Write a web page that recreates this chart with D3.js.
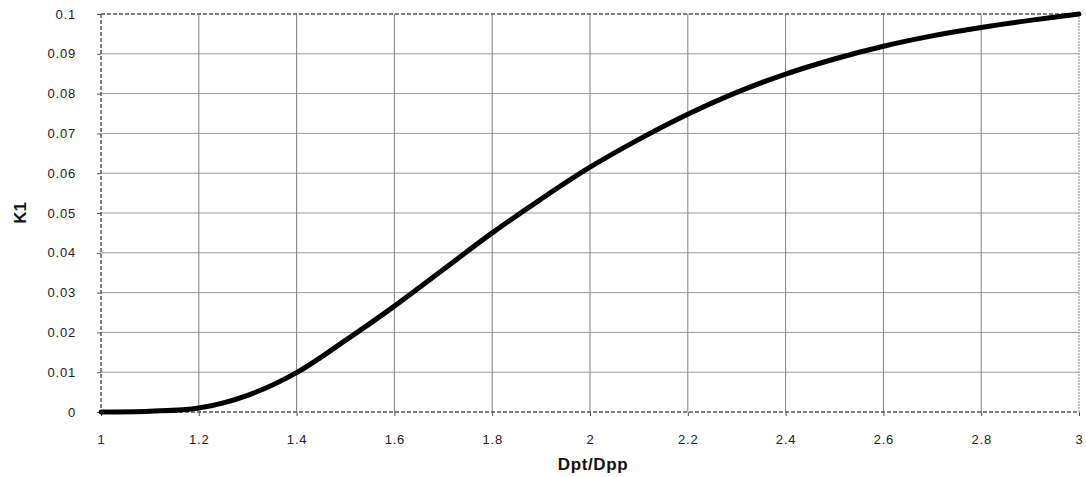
<!DOCTYPE html>
<html><head><meta charset="utf-8">
<script src="https://cdn.jsdelivr.net/npm/d3@7"></script>
<style>body{margin:0;background:#fff}svg{display:block}text{font-family:"Liberation Sans",Arial,sans-serif}</style>
</head><body><svg id="c" width="1086" height="477"></svg>
<script>
const xs = [1, 1.1, 1.2, 1.3, 1.4, 1.5, 1.6, 1.7, 1.8, 1.9, 2.0, 2.1, 2.2, 2.3, 2.4, 2.5, 2.6, 2.7, 2.8, 2.9, 3.0];
const k1 = [0, 0.0002, 0.001, 0.0042, 0.0099, 0.018, 0.0266, 0.0358, 0.045, 0.0535, 0.0615, 0.0685, 0.0748, 0.0803, 0.0849, 0.0887, 0.0919, 0.0945, 0.0966, 0.0984, 0.1];
const xTicks = [1, 1.2, 1.4, 1.6, 1.8, 2, 2.2, 2.4, 2.6, 2.8, 3];
const yTicks = [0, 0.01, 0.02, 0.03, 0.04, 0.05, 0.06, 0.07, 0.08, 0.09, 0.1];
const xLabel = "Dpt/Dpp", yLabel = "K1";

const svg = d3.select("#c");
const L = 101, R = 1079, T = 14, B = 412;
const x = d3.scaleLinear().domain([1, 3]).range([L, R]);
const y = d3.scaleLinear().domain([0, 0.1]).range([B, T]);

// grid
svg.append("g").selectAll("line").data(yTicks.slice(1, -1)).join("line")
  .attr("x1", L).attr("x2", R).attr("y1", d => y(d)).attr("y2", d => y(d))
  .attr("stroke", "#9a9a9a").attr("stroke-width", 1);
svg.append("g").selectAll("line").data(xTicks.slice(1, -1)).join("line")
  .attr("y1", T).attr("y2", B).attr("x1", d => x(d)).attr("x2", d => x(d))
  .attr("stroke", "#808080").attr("stroke-width", 1);

// border (dashed)
const bd = svg.append("g").attr("stroke", "#555").attr("stroke-width", 1.5).attr("stroke-dasharray", "4,2").attr("fill", "none");
bd.append("line").attr("x1", L).attr("x2", R).attr("y1", T).attr("y2", T);
bd.append("line").attr("x1", L).attr("x2", R).attr("y1", B).attr("y2", B);
bd.append("line").attr("x1", L).attr("x2", L).attr("y1", T).attr("y2", B);
bd.append("line").attr("x1", R).attr("x2", R).attr("y1", T).attr("y2", B).attr("stroke", "#888").attr("stroke-dasharray", "2,1").attr("stroke-width", 1);

// axes
const ya = svg.append("g").attr("transform", `translate(${L},0)`)
  .call(d3.axisLeft(y).tickValues(yTicks).tickFormat(d => String(+d.toFixed(2))).tickSize(4).tickPadding(21));
const xa = svg.append("g").attr("transform", `translate(0,${B})`)
  .call(d3.axisBottom(x).tickValues(xTicks).tickFormat(d => String(+d.toFixed(1))).tickSize(4).tickPadding(20));
[ya, xa].forEach(a => {
  a.select(".domain").remove();
  a.selectAll(".tick line").attr("stroke", "#555");
  a.selectAll("text").attr("font-size", 13).attr("letter-spacing", "0.8px").attr("fill", "#222");
});
xa.selectAll("text").attr("dy", "0.6em");

// curve
svg.append("path").datum(xs.map((d, i) => [d, k1[i]]))
  .attr("fill", "none").attr("stroke", "#000").attr("stroke-width", 5).attr("stroke-linecap", "round")
  .attr("d", d3.line().x(d => x(d[0])).y(d => y(d[1])).curve(d3.curveCatmullRom.alpha(0.5)));

// labels
svg.append("text").attr("x", 593).attr("y", 470).attr("text-anchor", "middle")
  .attr("font-size", 17).attr("font-weight", "bold").attr("letter-spacing", "0.6px").attr("fill", "#111").text(xLabel);
svg.append("text").attr("transform", `translate(26,213) rotate(-90)`).attr("text-anchor", "middle")
  .attr("font-size", 17).attr("font-weight", "bold").attr("fill", "#111").text(yLabel);
</script></body></html>
